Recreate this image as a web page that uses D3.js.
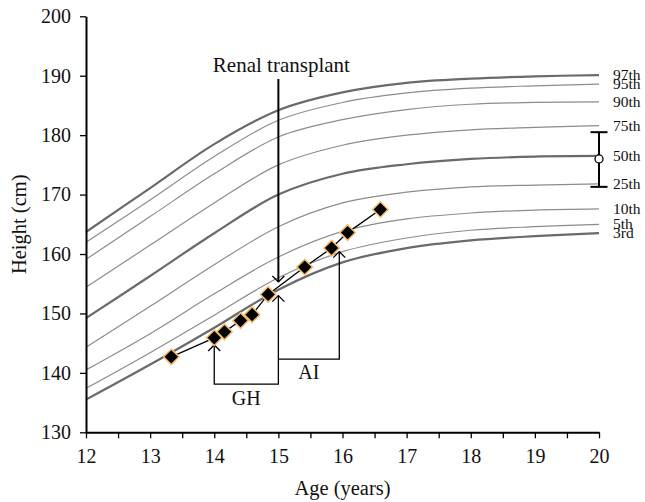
<!DOCTYPE html>
<html>
<head>
<meta charset="utf-8">
<script src="https://cdn.jsdelivr.net/npm/d3@7"></script>
<style>
	body { margin: 0; background: #fff; }
	svg text { font-family: "Liberation Serif", "DejaVu Serif", serif; fill: #111; }
</style>
</head>
<body>
<div id="chart"></div>
<script>
// percentile reference curves (height in cm by age)
var ages = [12, 13, 14, 15, 16, 17, 18, 19, 20];
var percentiles = ['97th', '95th', '90th', '75th', '50th', '25th', '10th', '5th', '3rd'];
var p97 = [163.7, 171.1, 178.5, 184.2, 187.2, 188.8, 189.5, 189.9, 190.1];
var p95 = [162.0, 169.1, 176.4, 182.5, 185.5, 187.1, 187.9, 188.3, 188.6];
var p90 = [159.1, 166.3, 173.5, 179.7, 182.6, 184.3, 185.2, 185.5, 185.6];
var p75 = [154.4, 161.5, 168.6, 175.0, 178.3, 180.0, 180.9, 181.3, 181.6];
var p50 = [149.2, 156.3, 163.5, 170.0, 173.5, 175.1, 176.0, 176.4, 176.5];
var p25 = [144.3, 151.2, 158.2, 164.6, 168.6, 170.4, 171.3, 171.6, 171.8];
var p10 = [140.5, 146.6, 153.3, 159.5, 163.8, 165.9, 166.9, 167.4, 167.6];
var p5  = [137.4, 143.4, 149.7, 156.0, 160.4, 162.7, 164.0, 164.6, 165.0];
var p3  = [135.5, 141.4, 147.6, 154.0, 158.6, 161.0, 162.3, 163.0, 163.5];

// patient measurements
var patientAge = [13.33, 14.0, 14.16, 14.41, 14.59, 14.84, 15.41, 15.83, 16.08, 16.59];
var patientHeight = [142.7, 145.9, 146.9, 148.8, 149.8, 153.2, 157.8, 161.0, 163.6, 167.5];

// target height range
var targetMid = 176.0, targetLow = 171.3, targetHigh = 180.5;

// treatment events
var transplantAge = 15.0, transplantTip = 155.3;
var ghStart = 14.0, ghTip = 144.7, ghEndTip = 153.0, ghBase = 138.1;
var aiStart = 15.0, aiEnd = 15.95, aiTip = 160.4, aiBase = 142.3;

var xTicks = d3.range(12, 20.01, 0.5);
var yTicks = [130, 140, 150, 160, 170, 180, 190, 200];

var svg = d3.select('#chart').append('svg').attr('width', 645).attr('height', 502);

var x = d3.scaleLinear().domain([12, 20]).range([86, 599]);
var y = d3.scaleLinear().domain([130, 200]).range([432.3, 16.3]);

var curves = [p97, p95, p90, p75, p50, p25, p10, p5, p3];
var thick = { '97th': true, '50th': true, '3rd': true };

var line = d3.line()
	.x(function(d, i) { return x(ages[i]); })
	.y(function(d) { return y(d); })
	.curve(d3.curveCatmullRom);

svg.append('g').selectAll('path')
	.data(curves)
	.enter().append('path')
	.attr('d', line)
	.attr('fill', 'none')
	.attr('stroke', function(d, i) { return thick[percentiles[i]] ? '#6a6a6a' : '#8c8c8c'; })
	.attr('stroke-width', function(d, i) { return thick[percentiles[i]] ? 2.2 : 1.2; });

svg.append('g').selectAll('text')
	.data(curves)
	.enter().append('text')
	.attr('x', 613)
	.attr('y', function(d) { return y(d[d.length - 1]); })
	.attr('dy', '0.33em')
	.style('font-size', '15.5px')
	.text(function(d, i) { return percentiles[i]; });

// axes
var xAxis = d3.axisBottom(x).tickValues(xTicks).tickSize(6).tickSizeOuter(0)
	.tickFormat(function(d) { return d % 1 === 0 ? d : ''; });
var yAxis = d3.axisLeft(y).tickValues(yTicks).tickSize(6).tickSizeOuter(0);

var gx = svg.append('g').attr('transform', 'translate(0,' + y(130) + ')').call(xAxis);
var gy = svg.append('g').attr('transform', 'translate(' + x(12) + ',0)').call(yAxis);

[gx, gy].forEach(function(g) {
	g.select('.domain').attr('stroke', '#000').attr('stroke-width', 2);
	g.selectAll('.tick line').attr('stroke', '#000').attr('stroke-width', 1.3);
	g.selectAll('.tick text').style('font-size', '20px').attr('fill', '#111');
});
gx.selectAll('.tick text').attr('dy', '1.1em');
gy.selectAll('.tick text').attr('x', -15);

svg.append('text')
	.attr('x', (x(12) + x(20)) / 2)
	.attr('y', 495)
	.attr('text-anchor', 'middle')
	.style('font-size', '20.5px')
	.text('Age (years)');

svg.append('text')
	.attr('transform', 'translate(26,' + (y(130) + y(200)) / 2 + ') rotate(-90)')
	.attr('text-anchor', 'middle')
	.style('font-size', '20.5px')
	.text('Height (cm)');

// open arrow head pointing up or down
function arrowHead(g, px, py, dir) {
	g.append('path')
		.attr('d', 'M' + (px - 6) + ',' + (py - 6 * dir) + 'L' + px + ',' + py + 'L' + (px + 6) + ',' + (py - 6 * dir))
		.attr('fill', 'none')
		.attr('stroke', '#000')
		.attr('stroke-width', 1.3);
}

var ann = svg.append('g');

// renal transplant
ann.append('line')
	.attr('x1', x(transplantAge)).attr('x2', x(transplantAge))
	.attr('y1', 79).attr('y2', y(transplantTip))
	.attr('stroke', '#000').attr('stroke-width', 2);
arrowHead(ann, x(transplantAge), y(transplantTip), 1);
ann.append('text')
	.attr('x', x(transplantAge) + 3)
	.attr('y', 71.5)
	.attr('text-anchor', 'middle')
	.style('font-size', '21px')
	.text('Renal transplant');

// GH bracket
ann.append('path')
	.attr('d', 'M' + x(ghStart) + ',' + y(ghTip) + 'V' + y(ghBase) + 'H' + x(transplantAge) + 'V' + y(ghEndTip))
	.attr('fill', 'none').attr('stroke', '#000').attr('stroke-width', 1.3);
arrowHead(ann, x(ghStart), y(ghTip), -1);
arrowHead(ann, x(transplantAge), y(ghEndTip), -1);
ann.append('text')
	.attr('x', (x(ghStart) + x(transplantAge)) / 2)
	.attr('y', 405)
	.attr('text-anchor', 'middle')
	.style('font-size', '20px')
	.text('GH');

// AI bracket
ann.append('path')
	.attr('d', 'M' + x(aiStart) + ',' + y(aiBase) + 'H' + x(aiEnd) + 'V' + y(aiTip))
	.attr('fill', 'none').attr('stroke', '#000').attr('stroke-width', 1.3);
arrowHead(ann, x(aiEnd), y(aiTip), -1);
ann.append('text')
	.attr('x', (x(aiStart) + x(aiEnd)) / 2)
	.attr('y', 379)
	.attr('text-anchor', 'middle')
	.style('font-size', '20px')
	.text('AI');

// patient growth line and points
var pts = patientAge.map(function(a, i) { return [a, patientHeight[i]]; });
svg.append('path')
	.attr('d', d3.line().x(function(d) { return x(d[0]); }).y(function(d) { return y(d[1]); })(pts))
	.attr('fill', 'none').attr('stroke', '#000').attr('stroke-width', 1.3);

svg.append('g').selectAll('path')
	.data(pts)
	.enter().append('path')
	.attr('d', d3.symbol().type(d3.symbolSquare).size(120))
	.attr('transform', function(d) { return 'translate(' + x(d[0]) + ',' + y(d[1]) + ') rotate(45)'; })
	.attr('fill', '#000')
	.attr('stroke', '#f2bd6b')
	.attr('stroke-width', 1.5);

// target height range
var eb = svg.append('g');
eb.append('line')
	.attr('x1', x(20)).attr('x2', x(20))
	.attr('y1', y(targetHigh)).attr('y2', y(targetLow))
	.attr('stroke', '#000').attr('stroke-width', 2);
[targetHigh, targetLow].forEach(function(v) {
	eb.append('line')
		.attr('x1', x(20) - 8.5).attr('x2', x(20) + 8.5)
		.attr('y1', y(v)).attr('y2', y(v))
		.attr('stroke', '#000').attr('stroke-width', 2);
});
eb.append('circle')
	.attr('cx', x(20)).attr('cy', y(targetMid)).attr('r', 4)
	.attr('fill', '#fff').attr('stroke', '#000').attr('stroke-width', 1.3);
</script>
</body>
</html>
